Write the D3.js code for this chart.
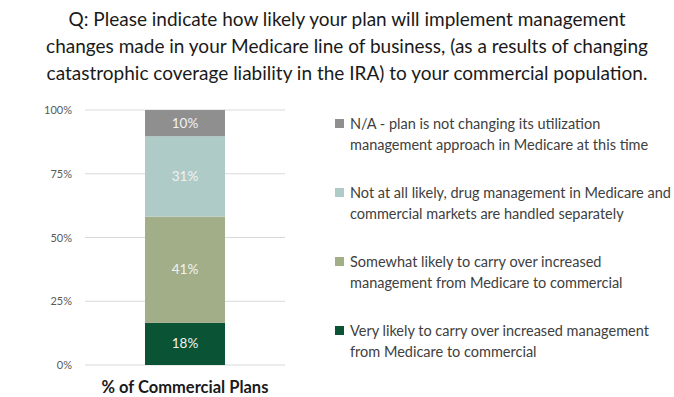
<!DOCTYPE html>
<html lang="en">
<head>
<meta charset="utf-8">
<title>Commercial plans chart</title>
<script type="text/javascript" src="https://cdn.jsdelivr.net/npm/d3@7/dist/d3.min.js"></script>
<style type="text/css">
	body{ margin:0; background:#fff; }
	svg{ font-family: Lato, "Noto Sans", sans-serif; }
</style>
</head>
<body>
<div id="vizContainer"></div>
<script type="text/javascript">
// -----------DATA-----------
var titleLines = [
	"Q: Please indicate how likely your plan will implement management",
	"changes made in your Medicare line of business, (as a results of changing",
	"catastrophic coverage liability in the IRA) to your commercial population."
];
var category = "% of Commercial Plans";
// stacked bottom -> top
var series = ["very", "somewhat", "notatall", "na"];
var values = [16.6, 41.6, 31.5, 10.3];   // bar heights as drawn
var valueLabels = ["18%", "41%", "31%", "10%"];
var colors = ["#0a5435", "#a2ae88", "#aecbc7", "#8f8f8f"];
var legendText = [
	["Very likely to carry over increased management", "from Medicare to commercial"],
	["Somewhat likely to carry over increased", "management from Medicare to commercial"],
	["Not at all likely, drug management in Medicare and", "commercial markets are handled separately"],
	["N/A - plan is not changing its utilization", "management approach in Medicare at this time"]
];
var tickValues = [0, 25, 50, 75, 100];

// -----------CANVAS-----------
var width = 674, height = 397;
var svgCanvas = d3.select("#vizContainer").append("svg")
	.attr("width", width)
	.attr("height", height);

// title
svgCanvas.selectAll(".title")
	.data(titleLines)
	.enter()
	.append("text")
	.attr("class", "title")
	.attr("x", 347)
	.attr("y", function(d, i){ return 26 + i * 27; })
	.attr("text-anchor", "middle")
	.attr("font-size", 19)
	.attr("fill", "#1a1a1a")
	.text(function(d){ return d; });

// scales
var yScale = d3.scaleLinear().domain([0, 100]).range([365, 110]);
var xScale = d3.scaleBand().domain([category]).range([85, 285]).paddingInner(0).paddingOuter(0.3);
var barW = 80;
var barX = xScale(category) + xScale.bandwidth() / 2 - barW / 2;

// grid + ticks
svgCanvas.selectAll(".grid")
	.data(tickValues)
	.enter()
	.append("line")
	.attr("x1", 85).attr("x2", 285)
	.attr("y1", function(d){ return yScale(d); })
	.attr("y2", function(d){ return yScale(d); })
	.attr("stroke", "#d9d9d9")
	.attr("stroke-width", 1);

var yAxis = d3.axisLeft(yScale)
	.tickValues(tickValues)
	.tickSize(0)
	.tickPadding(0)
	.tickFormat(function(d){ return d + "%"; });
var yG = svgCanvas.append("g")
	.attr("transform", "translate(72,0)")
	.call(yAxis);
yG.select(".domain").remove();
yG.selectAll("text")
	.attr("font-family", "Lato, sans-serif")
	.attr("font-size", 11)
	.attr("fill", "#595959");

// stacked bar
var stackData = [];
var acc = 0;
values.forEach(function(v, i){
	stackData.push({y0: acc, y1: acc + v, label: valueLabels[i], color: colors[i]});
	acc += v;
});

var segs = svgCanvas.selectAll(".seg")
	.data(stackData)
	.enter()
	.append("g");

segs.append("rect")
	.attr("x", barX)
	.attr("width", barW)
	.attr("y", function(d){ return yScale(d.y1); })
	.attr("height", function(d){ return yScale(d.y0) - yScale(d.y1); })
	.attr("fill", function(d){ return d.color; });

segs.append("text")
	.attr("x", barX + barW / 2)
	.attr("y", function(d){ return (yScale(d.y0) + yScale(d.y1)) / 2 + 4.5; })
	.attr("text-anchor", "middle")
	.attr("font-size", 13.5)
	.attr("fill", "#f2f2f2")
	.text(function(d){ return d.label; });

// category label
svgCanvas.append("text")
	.attr("x", xScale(category) + xScale.bandwidth() / 2)
	.attr("y", 393)
	.attr("text-anchor", "middle")
	.attr("font-size", 16.5)
	.attr("font-weight", "bold")
	.attr("fill", "#1a1a1a")
	.text(category);

// legend (top item = last series)
var legendOrder = [3, 2, 1, 0];
var leg = svgCanvas.selectAll(".leg")
	.data(legendOrder)
	.enter()
	.append("g")
	.attr("transform", function(d, i){ return "translate(335," + (124 + i * 69) + ")"; });

leg.append("rect")
	.attr("x", 0).attr("y", -5)
	.attr("width", 9).attr("height", 9)
	.attr("fill", function(d){ return colors[d]; });

leg.each(function(d){
	d3.select(this).selectAll("text")
		.data(legendText[d])
		.enter()
		.append("text")
		.attr("x", 15)
		.attr("y", function(t, j){ return 5 + j * 21; })
		.attr("font-size", 14.5)
		.attr("fill", "#404040")
		.text(function(t){ return t; });
});
</script>
</body>
</html>
